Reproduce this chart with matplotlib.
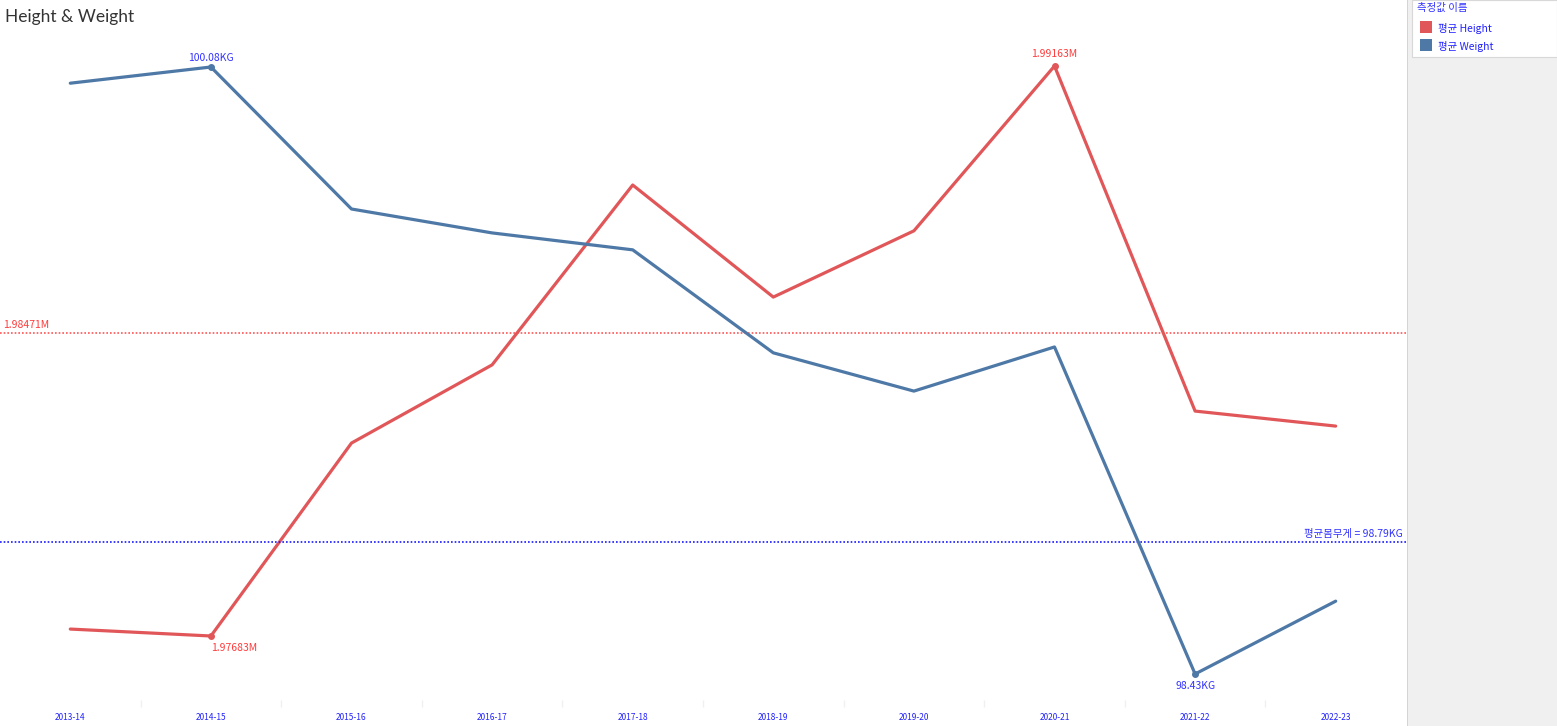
import matplotlib.pyplot as plt
from matplotlib.patches import Rectangle

plt.rcParams['font.family'] = ['Noto Sans CJK KR', 'DejaVu Sans']

seasons = ["2013-14", "2014-15", "2015-16", "2016-17", "2017-18",
           "2018-19", "2019-20", "2020-21", "2021-22", "2022-23"]
avg_height = [1.97701, 1.97683, 1.98184, 1.98387, 1.98854,
              1.98563, 1.98735, 1.99163, 1.98267, 1.98228]
avg_weight = [100.036, 100.08, 99.694, 99.629, 99.583,
              99.303, 99.199, 99.319, 98.43, 98.628]
height_ref = 1.98471
weight_ref = 98.79

RED = "#E15759"
BLUE = "#4E79A7"
W, H = 1557, 726

fig = plt.figure(figsize=(W / 100, H / 100), dpi=100)
fig.patch.set_facecolor("white")

# 오른쪽 회색 패널 + 범례 박스
fig.patches.append(Rectangle((1407 / W, 0), 150 / W, 1, transform=fig.transFigure,
                             facecolor="#f0f0f0", edgecolor="none", zorder=0))
fig.patches.append(Rectangle((1407 / W, 0), 1 / W, 1, transform=fig.transFigure,
                             facecolor="#d4d4d4", edgecolor="none", zorder=1))
fig.patches.append(Rectangle((1412 / W, 1 - 57 / H), 145 / W, 57 / H, transform=fig.transFigure,
                             facecolor="white", edgecolor="#d8d8d8", lw=0.8, zorder=1))

ax = fig.add_axes([0, 26 / H, 1406 / W, 670 / H])
ax2 = ax.twinx()
x = range(len(seasons))

ax.plot(x, avg_height, color=RED, lw=2.3, solid_capstyle="round", zorder=3)
ax2.plot(x, avg_weight, color=BLUE, lw=2.3, solid_capstyle="round", zorder=3)

ax.set_xlim(-0.5, len(seasons) - 0.5)
ax.set_ylim(1.975168, 1.992565)
ax2.set_ylim(98.3593, 100.1806)

# 평균 참조선
ax.axhline(height_ref, color="#ff5555", lw=1.2, ls=(0, (1, 1.2)), zorder=2)
ax2.axhline(weight_ref, color="#1a1aff", lw=1.2, ls=(0, (1, 1.2)), zorder=2)
ax.annotate("1.98471M", (-0.48, height_ref), xytext=(0, 1.5), textcoords="offset points",
            color="#ff3b3b", fontsize=7.5, va="bottom", ha="left")
ax2.annotate("평균몸무게 = 98.79KG", (9.48, weight_ref), xytext=(0, 2), textcoords="offset points",
             color="#3333ff", fontsize=7.5, va="bottom", ha="right")

# 최대/최소 표시
hi = avg_height.index(max(avg_height))
lo = avg_height.index(min(avg_height))
ax.plot([hi, lo], [avg_height[hi], avg_height[lo]], "o", color=RED, ms=4, zorder=4)
ax.annotate(f"{avg_height[hi]:.5f}M", (hi, avg_height[hi]), xytext=(0, 5),
            textcoords="offset points", ha="center", va="bottom", color="#ff3b3b", fontsize=7.5)
ax.annotate(f"{avg_height[lo]:.5f}M", (lo, avg_height[lo]), xytext=(17, -5),
            textcoords="offset points", ha="center", va="top", color="#ff3b3b", fontsize=7.5)

whi = avg_weight.index(max(avg_weight))
wlo = avg_weight.index(min(avg_weight))
ax2.plot([whi, wlo], [avg_weight[whi], avg_weight[wlo]], "o", color=BLUE, ms=4, zorder=4)
ax2.annotate(f"{avg_weight[whi]:.2f}KG", (whi, avg_weight[whi]), xytext=(0, 3),
             textcoords="offset points", ha="center", va="bottom", color="#3333ff", fontsize=7.5)
ax2.annotate(f"{avg_weight[wlo]:.2f}KG", (wlo, avg_weight[wlo]), xytext=(0, -5),
             textcoords="offset points", ha="center", va="top", color="#3333ff", fontsize=7.5)

for a in (ax, ax2):
    for s in a.spines.values():
        s.set_visible(False)
    a.set_yticks([])
ax.set_xticks(list(x))
ax.set_xticklabels(seasons, fontsize=6, color="#2222ff")
ax.tick_params(axis="x", length=0, pad=9)
ax.set_xticks([i + 0.5 for i in range(len(seasons) - 1)], minor=True)
ax.tick_params(axis="x", which="minor", length=5, color="#f0f0f0", width=1)

fig.text(5 / W, 1 - 17 / H, "Height & Weight", fontsize=12.5, color="#333333",
         va="center", ha="left", family=["Lato", "DejaVu Sans"])

# 범례
fig.text(1417 / W, 1 - 8 / H, "측정값 이름", fontsize=7.5, color="#3333ff", va="center")
for i, (lab, col) in enumerate([("평균 Height", RED), ("평균 Weight", BLUE)]):
    yc = 27 + 18 * i
    fig.patches.append(Rectangle((1420 / W, 1 - (yc + 6) / H), 12 / W, 12 / H,
                                 transform=fig.transFigure, facecolor=col,
                                 edgecolor="none", zorder=2))
    fig.text(1438 / W, 1 - (yc + 1) / H, lab, fontsize=7.5, color="#2222ff", va="center")

fig.savefig("out.png", dpi=100)
